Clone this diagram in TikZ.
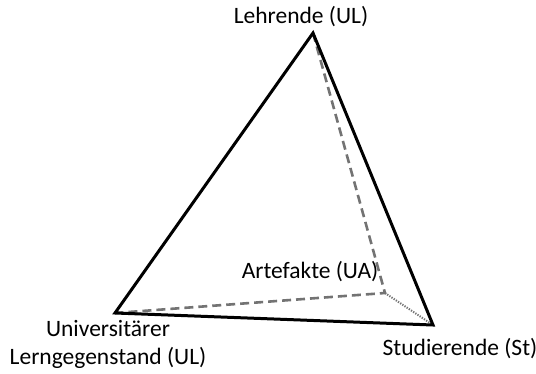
\documentclass[tikz,border=0pt]{standalone}
\usepackage{fontspec}
\setmainfont{Carlito}
\begin{document}
\begin{tikzpicture}[x=1pt,y=-1pt,
  edge/.style={line width=3pt,line join=miter,black},
  hidden/.style={line width=2.6pt,draw=black!55,dash pattern=on 9pt off 5pt},
  hiddendot/.style={line width=2pt,draw=black!55,dash pattern=on 1.3pt off 1.3pt},
  lbl/.style={font=\fontsize{23.5}{28}\selectfont,inner sep=0pt,align=center}]
\useasboundingbox (0,0) rectangle (536,373);
% tetrahedron corners
\coordinate (T) at (313,33);
\coordinate (L) at (115,313);
\coordinate (R) at (433,325);
\coordinate (A) at (385,293);
% hidden edges towards the back corner
\draw[hidden] (T) -- (A) -- (L);
\draw[hiddendot] (A) -- (R);
% visible outline
\draw[edge] (T) -- (L) -- (R) -- cycle;
% corner labels
\node[lbl] (lt) at (301,17) {Lehrende (UL)};
\node[lbl] (la) at (310,272) {Artefakte (UA)};
\node[lbl] (ll) at (108,344) {Universitärer\\Lerngegenstand (UL)};
\node[lbl] (lr) at (460,349) {Studierende (St)};
\end{tikzpicture}
\end{document}
